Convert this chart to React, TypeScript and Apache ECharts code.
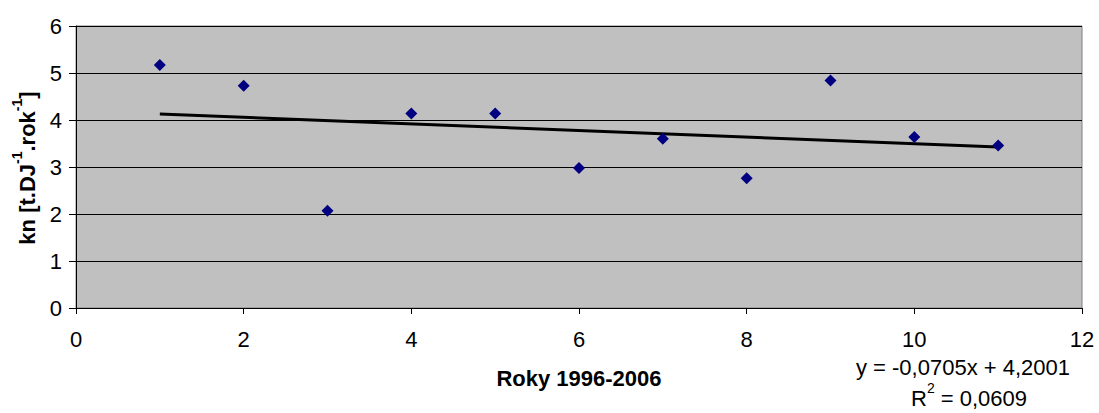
import React, { useEffect, useRef } from "react";
import * as echarts from "echarts";

const years = [1, 2, 3, 4, 5, 6, 7, 8, 9, 10, 11];
const knValues = [5.17, 4.73, 2.07, 4.14, 4.14, 2.98, 3.6, 2.76, 4.84, 3.64, 3.46];
const trendSlope = -0.0705;
const trendIntercept = 4.2001;
const trendRange = [1, 11];
const xTicks = { min: 0, max: 12, interval: 2 };
const yTicks = { min: 0, max: 6, interval: 1 };

const FONT = "Liberation Sans, Arial, sans-serif";

export default function App() {
  const ref = useRef<HTMLDivElement>(null);
  useEffect(() => {
    document.body.style.margin = "0";
    if (!ref.current) return;
    const chart = echarts.init(ref.current, undefined, { renderer: "svg" });
    const scatterData = years.map((x, i) => [x, knValues[i]]);
    const trendData = trendRange.map((x) => [x, trendSlope * x + trendIntercept]);
    chart.setOption({
      animation: false,
      backgroundColor: "#ffffff",
      grid: {
        left: 76,
        right: 17,
        top: 26,
        bottom: 105,
        show: true,
        backgroundColor: "#C0C0C0",
        borderColor: "#808080",
        borderWidth: 1,
      },
      xAxis: {
        type: "value",
        min: xTicks.min,
        max: xTicks.max,
        interval: xTicks.interval,
        axisLine: { show: true, onZero: false, lineStyle: { color: "#000", width: 1 } },
        axisTick: { show: true, inside: false, length: 6, lineStyle: { color: "#000" } },
        axisLabel: { color: "#000", fontSize: 22, fontFamily: FONT, margin: 20 },
        splitLine: { show: false },
        name: "Roky 1996-2006",
        nameLocation: "middle",
        nameGap: 59,
        nameTextStyle: { color: "#000", fontSize: 22, fontWeight: "bold", fontFamily: FONT },
      },
      yAxis: {
        type: "value",
        min: yTicks.min,
        max: yTicks.max,
        interval: yTicks.interval,
        axisLine: { show: true, onZero: false, lineStyle: { color: "#000", width: 1 } },
        axisTick: { show: true, inside: false, length: 7, lineStyle: { color: "#000" } },
        axisLabel: { color: "#000", fontSize: 22, fontFamily: FONT, margin: 14 },
        splitLine: { show: true, lineStyle: { color: "#000", width: 1 } },
      },
      graphic: [
        {
          type: "text",
          x: 24,
          y: 168,
          rotation: Math.PI / 2,
          style: {
            text: "{m|kn [t.DJ}{s|-1}{m|.rok}{s|-1}{m|]}",
            align: "center",
            verticalAlign: "middle",
            rich: {
              m: { fontSize: 22, fontWeight: "bold", fontFamily: FONT, fill: "#000", lineHeight: 28, verticalAlign: "bottom" },
              s: { fontSize: 14, fontWeight: "bold", fontFamily: FONT, fill: "#000", lineHeight: 28, verticalAlign: "top" },
            },
          },
        },
        {
          type: "text",
          x: 963,
          y: 367,
          style: {
            text: "y = -0,0705x + 4,2001",
            align: "center",
            verticalAlign: "middle",
            fontSize: 22,
            fontFamily: FONT,
            fill: "#000",
          },
        },
        {
          type: "text",
          x: 969,
          y: 395,
          style: {
            text: "{m|R}{s|2}{m| = 0,0609}",
            align: "center",
            verticalAlign: "middle",
            rich: {
              m: { fontSize: 22, fontFamily: FONT, fill: "#000", lineHeight: 28, verticalAlign: "bottom" },
              s: { fontSize: 14, fontFamily: FONT, fill: "#000", lineHeight: 28, verticalAlign: "top" },
            },
          },
        },
      ],
      series: [
        {
          type: "scatter",
          data: scatterData,
          symbol: "diamond",
          symbolSize: 12,
          itemStyle: { color: "#000080", opacity: 1 },
          z: 3,
        },
        {
          type: "line",
          data: trendData,
          showSymbol: false,
          symbol: "none",
          lineStyle: { color: "#000", width: 3 },
          z: 2,
        },
      ],
    });
    return () => chart.dispose();
  }, []);
  return <div ref={ref} style={{ width: 1099, height: 413 }} />;
}
